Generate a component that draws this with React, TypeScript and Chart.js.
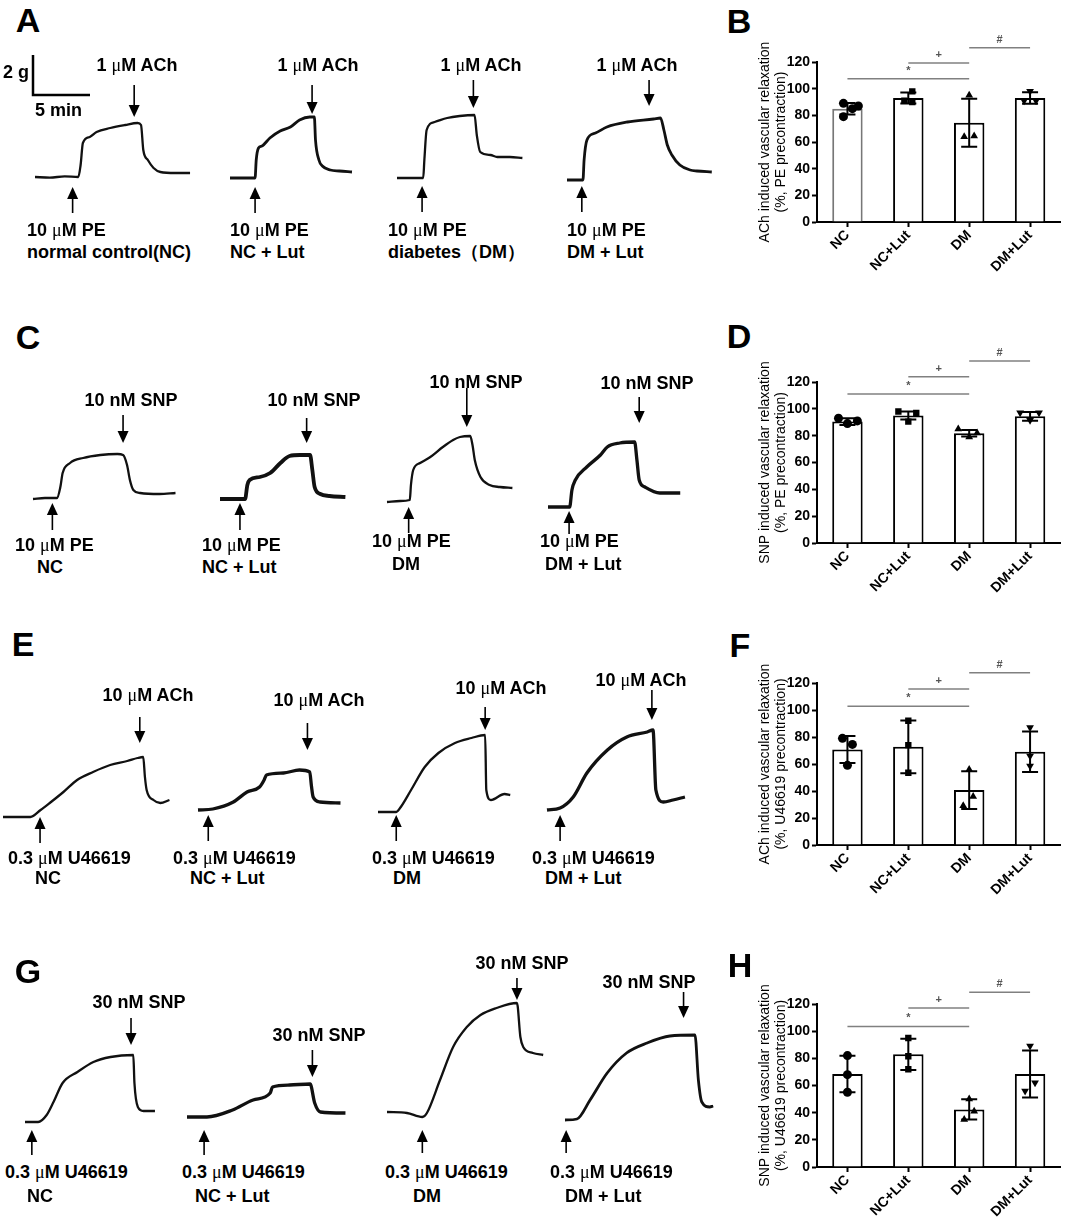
import React, { useEffect, useRef } from "react";
import { Chart, registerables } from "chart.js";

Chart.register(...registerables);

const FONT = "'Liberation Sans', Arial, Helvetica, sans-serif";
const PX_PER_MIN = 11.4;
const PX_PER_G = 20;
const SCALE_G = 2;
const SCALE_MIN = 5;

// ---------- Isometric tension traces: [time (min), tension above baseline (g)] ----------
const A_NC = [[0,0],[1.3,-0.03],[2.6,0.03],[3.8,0],[4.0,0.6],[4.2,1.7],[4.8,2.0],[5.4,2.25],[6.6,2.45],[7.9,2.6],[9.0,2.7],[9.3,2.6],[9.5,1.35],[9.9,0.85],[10.4,0.45],[11.0,0.25],[12.3,0.2],[13.6,0.2]];
const A_NC_LUT = [[0,0],[2.2,0],[2.3,0.9],[2.5,1.5],[2.8,1.6],[3.5,2.0],[4.4,2.35],[5.3,2.55],[6.1,2.9],[7.0,3.05],[7.4,3.05],[7.5,1.9],[7.8,0.9],[8.1,0.6],[8.8,0.4],[9.6,0.35],[10.7,0.3]];
const A_DM = [[0,0],[2.3,0],[2.4,0.9],[2.6,2.4],[3.3,2.8],[4.4,3.0],[5.5,3.1],[6.8,3.15],[7.0,2.15],[7.3,1.3],[8.2,1.15],[8.8,1.05],[9.9,1.05],[11.0,1.0]];
const A_DM_LUT = [[0,0],[1.4,0],[1.5,1.0],[1.75,2.0],[2.5,2.35],[3.5,2.65],[5.3,2.9],[7.6,3.05],[8.2,3.1],[8.5,2.5],[8.8,1.75],[9.2,1.25],[9.9,0.75],[10.8,0.5],[11.4,0.45],[12.7,0.4]];
const A_PE = [3.3, 2.2, 2.2, 1.3];
const A_ACH = [8.7, 7.2, 6.7, 7.2];

const C_NC = [[0,0],[1.05,0.05],[2.1,0.05],[2.4,0.6],[2.6,1.3],[3.25,1.8],[4.4,2.05],[5.9,2.2],[7.4,2.25],[7.9,2.2],[8.25,1.7],[8.5,0.95],[8.8,0.45],[9.4,0.3],[11.1,0.25],[12.5,0.3]];
const C_NC_LUT = [[0,0],[2.2,0],[2.4,0.7],[2.6,0.95],[3.5,1.1],[4.4,1.3],[5.3,1.8],[6.1,2.15],[7.0,2.2],[7.9,2.2],[8.1,1.45],[8.3,0.6],[8.8,0.25],[9.6,0.15],[11.0,0.1]];
const C_DM = [[0,0],[1.15,0.05],[2.0,0.1],[2.1,0.85],[2.3,1.6],[2.9,1.95],[3.8,2.25],[4.9,2.75],[5.8,3.1],[6.4,3.25],[7.3,3.3],[7.5,2.85],[7.7,2.1],[8.2,1.25],[9.0,0.85],[9.9,0.75],[11.0,0.7]];
const C_DM_LUT = [[0,0],[1.9,0],[2.1,0.85],[2.4,1.35],[3.4,2.0],[4.6,2.6],[5.2,3.0],[6.3,3.2],[7.6,3.25],[7.8,2.35],[8.0,1.35],[8.5,1.0],[9.8,0.7],[11.6,0.7]];
const C_PE = [1.7, 1.75, 1.9, 1.85];
const C_SNP = [7.9, 7.6, 7.0, 8.0];

const E_NC = [[0,0],[2.4,0],[3.3,0.35],[4.1,0.7],[5.3,1.25],[6.5,1.85],[7.9,2.25],[9.4,2.6],[10.9,2.8],[11.8,2.95],[12.3,3.0],[12.45,2.0],[12.6,1.35],[13.2,0.85],[13.8,0.7],[14.6,0.85]];
const E_NC_LUT = [[0,0],[1.3,0.05],[3.1,0.4],[4.3,0.9],[5.4,1.15],[5.8,1.5],[6.0,1.75],[7.5,1.85],[8.9,2.0],[9.8,1.9],[9.95,1.2],[10.1,0.65],[10.7,0.4],[12.5,0.35]];
const E_DM = [[0,0],[1.6,0],[2.0,0.25],[2.9,1.1],[4.1,2.25],[5.3,2.95],[6.75,3.45],[8.2,3.7],[9.4,3.85],[9.5,1.1],[9.9,0.6],[11.1,0.9],[11.6,0.85]];
const E_DM_LUT = [[0,0],[1.15,0.1],[2.3,0.65],[3.5,1.85],[5.3,3.0],[7.0,3.65],[8.8,3.9],[9.3,4.0],[9.55,1.0],[10.2,0.4],[11.05,0.5],[12.1,0.65]];
const E_U466 = [3.25, 0.9, 1.6, 1.15];
const E_ACH = [12.0, 9.6, 9.4, 9.2];

const G_NC = [[0,0],[1.15,0],[1.9,0.35],[2.5,1.0],[3.3,1.95],[4.6,2.5],[6.0,3.0],[7.5,3.25],[9.5,3.35],[9.6,1.95],[9.9,0.75],[10.4,0.55],[11.4,0.55]];
const G_NC_LUT = [[0,0],[1.75,0],[4.0,0.35],[5.8,0.85],[7.3,1.2],[7.5,1.5],[9.0,1.6],[10.8,1.65],[11.2,0.7],[11.7,0.25],[13.9,0.2]];
const G_DM = [[0,0],[1.75,-0.05],[3.1,-0.25],[3.5,-0.05],[4.65,1.6],[5.8,3.25],[7.0,4.25],[8.2,4.85],[9.6,5.2],[11.4,5.45],[11.7,3.75],[11.95,3.25],[12.8,2.95],[13.7,2.85]];
const G_DM_LUT = [[0,0],[1.05,0.05],[2.2,1.0],[3.7,2.35],[5.4,3.35],[7.2,3.85],[9.2,4.2],[11.4,4.25],[11.7,2.0],[12.0,0.9],[12.7,0.65],[13.0,0.7]];
const G_U466 = [0.6, 1.5, 3.1, 0.1];
const G_SNP = [9.3, 11.0, 11.4, 10.4];

// ---------- Bar panels ----------
const GROUPS = ["NC", "NC+Lut", "DM", "DM+Lut"];

const B_MEAN = [85, 93, 74.5, 93];
const B_SD = [4.3, 4.2, 18, 4.3];
const B_PTS = [[89, 87, 85, 79], [98, 91, 90], [95, 64, 64.5], [98, 91, 91]];
const B_SIG = [[0, 2, 107.5, "*"], [1, 2, 119.2, "+"], [2, 3, 130.7, "#"]];

const D_MEAN = [90.5, 95, 81.8, 94.4];
const D_SD = [2.5, 3, 2.5, 3.3];
const D_PTS = [[93, 89, 91], [98, 97, 90.5], [85, 82, 79], [97, 97, 91.5]];
const D_SIG = [[0, 2, 111, "*"], [1, 2, 124, "+"], [2, 3, 135.6, "#"]];

const F_MEAN = [70.7, 72.7, 40.7, 69];
const F_SD = [10, 19.5, 14, 15];
const F_PTS = [[79, 74.5, 59], [92, 74, 53.5], [56, 29, 36], [87, 66, 58.5]];
const F_SIG = [[0, 2, 102.8, "*"], [1, 2, 115.6, "+"], [2, 3, 127.6, "#"]];

const H_MEAN = [68.5, 83, 42.4, 68.5];
const H_SD = [13.4, 11.5, 7.4, 17.3];
const H_PTS = [[82, 68, 55], [95, 81.5, 72], [50, 35, 41], [89, 62, 56]];
const H_SIG = [[0, 2, 103.5, "*"], [1, 2, 117, "+"], [2, 3, 128.6, "#"]];

// ---------- layout / style ----------
const ROWS = [
  { top: 50, bottom: 222, data: [A_NC, A_NC_LUT, A_DM, A_DM_LUT], up: A_PE, down: A_ACH,
    x0: [35, 230, 397, 567], yb: [177, 178, 178, 180],
    upY: [[187, 213], [187, 213], [186, 212], [186, 212]],
    downY: [[85, 117], [85, 114], [80, 108], [80, 106]], lw: [2.3, 2.8, 2.3, 2.8] },
  { top: 380, bottom: 540, data: [C_NC, C_NC_LUT, C_DM, C_DM_LUT], up: C_PE, down: C_SNP,
    x0: [33, 220, 387, 548], yb: [499, 499, 502, 507],
    upY: [[503, 530], [503, 530], [507, 533], [511, 534]],
    downY: [[415, 443], [418, 443], [388, 427], [397, 423]], lw: [2.3, 3.8, 2.3, 3.3] },
  { top: 680, bottom: 850, data: [E_NC, E_NC_LUT, E_DM, E_DM_LUT], up: E_U466, down: E_ACH,
    x0: [3, 198, 378, 547], yb: [817, 810, 812, 810],
    upY: [[817, 843], [815, 841], [815, 841], [815, 841]],
    downY: [[717, 743], [723, 750], [707, 730], [690, 720]], lw: [2.3, 3.3, 2.3, 3.3] },
  { top: 960, bottom: 1162, data: [G_NC, G_NC_LUT, G_DM, G_DM_LUT], up: G_U466, down: G_SNP,
    x0: [25, 187, 387, 565], yb: [1122, 1117, 1112, 1120],
    upY: [[1130, 1155], [1130, 1155], [1130, 1153], [1130, 1153]],
    downY: [[1018, 1045], [1050, 1077], [978, 1000], [992, 1018]], lw: [2.3, 3.3, 2.3, 2.8] },
];

const PANELS = [
  { mean: B_MEAN, sd: B_SD, pts: B_PTS, sig: B_SIG, areaTop: 62, areaBottom: 222,
    title: ["ACh induced vascular relaxation", "(%, PE precontraction)"],
    jit: [[-4, 11, 5, -4], [4, -4, 4], [0, -5, 5], [0, -6, 6]], border: ["#777", "#000", "#000", "#000"] },
  { mean: D_MEAN, sd: D_SD, pts: D_PTS, sig: D_SIG, areaTop: 382, areaBottom: 543,
    title: ["SNP induced vascular relaxation", "(%, PE precontraction)"],
    jit: [[-9, 0, 10], [-10, 8, 0], [-11, 8, 0], [-10, 9, 0]], border: ["#000", "#000", "#000", "#000"] },
  { mean: F_MEAN, sd: F_SD, pts: F_PTS, sig: F_SIG, areaTop: 683, areaBottom: 845,
    title: ["ACh induced vascular relaxation", "(%, U46619 precontraction)"],
    jit: [[-5, 5, 0], [0, 0, 0], [0, -6, 4], [0, 0, 0]], border: ["#000", "#000", "#000", "#000"] },
  { mean: H_MEAN, sd: H_SD, pts: H_PTS, sig: H_SIG, areaTop: 1004, areaBottom: 1167,
    title: ["SNP induced vascular relaxation", "(%, U46619 precontraction)"],
    jit: [[0, 0, 0], [0, 0, 0], [0, -5, 5], [0, 5, -5]], border: ["#000", "#000", "#000", "#000"] },
];

const LETTERS: [string, number, number][] = [
  ["A", 28, 20], ["B", 739, 21], ["C", 28, 337], ["D", 739, 336],
  ["E", 23, 644], ["F", 740, 645], ["G", 28, 971], ["H", 740, 965],
];

const LABELS: [number, number, string, number][] = [
  [137, 65, "1 μM ACh", 1], [318, 65, "1 μM ACh", 1], [481, 65, "1 μM ACh", 1], [637, 65, "1 μM ACh", 1],
  [27, 230, "10 μM PE", 0], [230, 230, "10 μM PE", 0], [388, 230, "10 μM PE", 0], [567, 230, "10 μM PE", 0],
  [27, 252, "normal control(NC)", 0], [230, 252, "NC + Lut", 0], [388, 252, "diabetes（DM）", 0], [567, 252, "DM + Lut", 0],
  [3, 72, "2 g", 0], [35, 110, "5 min", 0],
  [131, 400, "10 nM SNP", 1], [314, 400, "10 nM SNP", 1], [476, 382, "10 nM SNP", 1], [647, 383, "10 nM SNP", 1],
  [15, 545, "10 μM PE", 0], [202, 545, "10 μM PE", 0], [372, 541, "10 μM PE", 0], [540, 541, "10 μM PE", 0],
  [37, 567, "NC", 0], [202, 567, "NC + Lut", 0], [392, 564, "DM", 0], [545, 564, "DM + Lut", 0],
  [148, 695, "10 μM ACh", 1], [319, 700, "10 μM ACh", 1], [501, 688, "10 μM ACh", 1], [641, 680, "10 μM ACh", 1],
  [8, 858, "0.3 μM U46619", 0], [173, 858, "0.3 μM U46619", 0], [372, 858, "0.3 μM U46619", 0], [532, 858, "0.3 μM U46619", 0],
  [35, 878, "NC", 0], [190, 878, "NC + Lut", 0], [393, 878, "DM", 0], [545, 878, "DM + Lut", 0],
  [139, 1002, "30 nM SNP", 1], [319, 1035, "30 nM SNP", 1], [522, 963, "30 nM SNP", 1], [649, 982, "30 nM SNP", 1],
  [5, 1172, "0.3 μM U46619", 0], [182, 1172, "0.3 μM U46619", 0], [385, 1172, "0.3 μM U46619", 0], [550, 1172, "0.3 μM U46619", 0],
  [27, 1196, "NC", 0], [195, 1196, "NC + Lut", 0], [413, 1196, "DM", 0], [565, 1196, "DM + Lut", 0],
];

function fmt(s: string) {
  const parts = s.split("μ");
  const out: any[] = [];
  parts.forEach((p, i) => {
    if (i > 0) out.push(<span key={"m" + i} style={{ fontFamily: "'Liberation Serif', serif", fontWeight: "normal" }}>μ</span>);
    out.push(<React.Fragment key={"t" + i}>{p}</React.Fragment>);
  });
  return out;
}

function Label({ x, y, text, center, size = 18 }: any) {
  return (
    <div style={{
      position: "absolute", left: x, top: y,
      transform: center ? "translate(-50%,-50%)" : "translateY(-50%)",
      fontFamily: FONT, fontSize: size, fontWeight: "bold", lineHeight: 1,
      whiteSpace: "nowrap", color: "#000",
    }}>{fmt(text)}</div>
  );
}

function TraceChart({ data, x0, yb, top, bottom, up, down, upY, downY, lw, scaleBar }: any) {
  const ref = useRef<HTMLCanvasElement>(null);
  const tMax = Math.max(...data.map((p: number[]) => p[0]));
  const left = Math.round(x0 - 14);
  const width = Math.round(tMax * PX_PER_MIN + 28);
  const height = bottom - top;
  useEffect(() => {
    const xMin = (left - x0) / PX_PER_MIN;
    const xMax = (left + width - x0) / PX_PER_MIN;
    const yMax = (yb - top) / PX_PER_G;
    const yMin = (yb - bottom) / PX_PER_G;
    const arrows = {
      id: "arrows",
      afterDraw(chart: any) {
        const ctx = chart.ctx;
        const xs = chart.scales.x;
        const ys = chart.scales.y;
        ctx.save();
        ctx.fillStyle = "#000";
        ctx.strokeStyle = "#000";
        const drawArrow = (x: number, yTail: number, yTip: number) => {
          const dir = yTip > yTail ? 1 : -1;
          const headLen = 12, half = 5.5;
          ctx.lineWidth = 1.6;
          ctx.beginPath();
          ctx.moveTo(x, yTail);
          ctx.lineTo(x, yTip - dir * headLen);
          ctx.stroke();
          ctx.beginPath();
          ctx.moveTo(x, yTip);
          ctx.lineTo(x - half, yTip - dir * headLen);
          ctx.lineTo(x + half, yTip - dir * headLen);
          ctx.closePath();
          ctx.fill();
        };
        drawArrow(xs.getPixelForValue(up), upY[1] - top, upY[0] - top);
        drawArrow(xs.getPixelForValue(down), downY[0] - top, downY[1] - top);
        if (scaleBar) {
          const cx = scaleBar[0] - left;
          const cy = scaleBar[1] - top;
          const h = ys.getPixelForValue(0) - ys.getPixelForValue(SCALE_G);
          const w = xs.getPixelForValue(SCALE_MIN) - xs.getPixelForValue(0);
          ctx.lineWidth = 2.5;
          ctx.beginPath();
          ctx.moveTo(cx, cy - h);
          ctx.lineTo(cx, cy);
          ctx.lineTo(cx + w, cy);
          ctx.stroke();
        }
        ctx.restore();
      },
    };
    const chart = new Chart(ref.current as HTMLCanvasElement, {
      type: "line",
      data: {
        datasets: [{
          data: data.map((p: number[]) => ({ x: p[0], y: p[1] })),
          borderColor: "#111",
          borderWidth: lw,
          pointRadius: 0,
          cubicInterpolationMode: "monotone",
          fill: false,
        }],
      },
      options: {
        animation: false,
        responsive: false,
        maintainAspectRatio: false,
        events: [],
        layout: { padding: 0 },
        plugins: { legend: { display: false }, tooltip: { enabled: false } },
        scales: {
          x: { type: "linear", display: false, min: xMin, max: xMax },
          y: { type: "linear", display: false, min: yMin, max: yMax },
        },
      } as any,
      plugins: [arrows],
    } as any);
    return () => chart.destroy();
  }, []);
  return <canvas ref={ref} width={width} height={height}
    style={{ position: "absolute", left, top, width, height }} />;
}

const STYLES = ["circle", "rect", "triangle", "triangle"];

function BarPanel({ p }: any) {
  const ref = useRef<HTMLCanvasElement>(null);
  const left = 752;
  const width = 313;
  const padTop = 62;
  const xH = 50;
  const padBottom = 5;
  const top = p.areaTop - padTop;
  const height = p.areaBottom - p.areaTop + padTop + xH + padBottom;
  useEffect(() => {
    const catW = (1062 - 817) / GROUPS.length;
    const deco = {
      id: "deco",
      afterDatasetDraw(chart: any, args: any) {
        if (args.index !== 0) return;
        const ctx = chart.ctx;
        const xs = chart.scales.x;
        const ys = chart.scales.y;
        ctx.save();
        ctx.strokeStyle = "#000";
        ctx.lineWidth = 2;
        p.mean.forEach((m: number, i: number) => {
          const x = xs.getPixelForValue(i);
          const yT = ys.getPixelForValue(m + p.sd[i]);
          const yB = ys.getPixelForValue(m - p.sd[i]);
          ctx.beginPath();
          ctx.moveTo(x, yT); ctx.lineTo(x, yB);
          ctx.moveTo(x - 8, yT); ctx.lineTo(x + 8, yT);
          ctx.moveTo(x - 8, yB); ctx.lineTo(x + 8, yB);
          ctx.stroke();
        });
        ctx.restore();
      },
      afterDraw(chart: any) {
        const ctx = chart.ctx;
        const xs = chart.scales.x;
        const ys = chart.scales.y;
        ctx.save();
        ctx.strokeStyle = "#808080";
        ctx.fillStyle = "#555";
        ctx.lineWidth = 1.5;
        ctx.font = "bold 11px " + FONT;
        ctx.textAlign = "center";
        ctx.textBaseline = "middle";
        p.sig.forEach((s: any[]) => {
          const x1 = xs.getPixelForValue(s[0]);
          const x2 = xs.getPixelForValue(s[1]);
          const y = ys.getPixelForValue(s[2]);
          ctx.beginPath();
          ctx.moveTo(x1, y); ctx.lineTo(x2, y);
          ctx.stroke();
          ctx.fillText(s[3], (x1 + x2) / 2, y - 8);
        });
        ctx.restore();
      },
    };
    const datasets: any[] = [{
      type: "bar",
      data: p.mean,
      backgroundColor: "#fff",
      borderColor: p.border,
      borderWidth: 2,
      barPercentage: 0.5,
      categoryPercentage: 1,
      grouped: false,
      order: 2,
    }];
    p.pts.forEach((vals: number[], g: number) => {
      datasets.push({
        type: "scatter",
        xAxisID: "xp",
        yAxisID: "y",
        data: vals.map((v, i) => ({ x: g + p.jit[g][i] / catW, y: v })),
        pointStyle: STYLES[g],
        rotation: g === 3 ? 180 : 0,
        pointRadius: 4.5,
        backgroundColor: "#000",
        borderColor: "#000",
        borderWidth: 0,
        showLine: false,
        order: 1,
      });
    });
    const chart = new Chart(ref.current as HTMLCanvasElement, {
      type: "bar",
      data: { labels: GROUPS, datasets },
      options: {
        animation: false,
        responsive: false,
        maintainAspectRatio: false,
        events: [],
        layout: { padding: { top: padTop, bottom: padBottom, left: 0, right: 3 } },
        plugins: { legend: { display: false }, tooltip: { enabled: false } },
        scales: {
          x: {
            type: "category",
            offset: true,
            border: { display: true, color: "#000", width: 2 },
            grid: { display: true, drawOnChartArea: false, drawTicks: true, offset: false, tickLength: 5, tickWidth: 2, tickColor: "#000", color: "#000" },
            ticks: { color: "#000", font: { family: FONT, size: 14, weight: "bold" }, minRotation: 45, maxRotation: 45, padding: 0 },
            afterFit: (s: any) => { s.height = xH; },
          },
          xp: { type: "linear", display: false, offset: false, grid: { offset: false }, min: -0.5, max: 3.5 },
          y: {
            min: 0, max: 120,
            border: { display: true, color: "#000", width: 2 },
            grid: { display: true, drawOnChartArea: false, drawTicks: true, tickLength: 5, tickWidth: 2, tickColor: "#000", color: "#000" },
            ticks: { stepSize: 20, color: "#000", font: { family: FONT, size: 14, weight: "bold" }, padding: 2 },
            title: { display: true, text: p.title, color: "#000", font: { family: FONT, size: 14, lineHeight: 1.15 }, padding: { top: 5, bottom: 0 } },
            afterFit: (s: any) => { s.width = 817 - left; },
          },
        },
      } as any,
      plugins: [deco],
    } as any);
    return () => chart.destroy();
  }, []);
  return <canvas ref={ref} width={width} height={height}
    style={{ position: "absolute", left, top, width, height }} />;
}

export default function App() {
  const traces: any[] = [];
  ROWS.forEach((r, ri) => {
    r.data.forEach((d, i) => {
      traces.push(
        <TraceChart key={ri + "-" + i} data={d} x0={r.x0[i]} yb={r.yb[i]} top={r.top} bottom={r.bottom}
          up={r.up[i]} down={r.down[i]} upY={r.upY[i]} downY={r.downY[i]} lw={r.lw[i]}
          scaleBar={ri === 0 && i === 0 ? [33, 95] : null} />
      );
    });
  });
  return (
    <div style={{ position: "absolute", left: 0, top: 0, width: 1065, height: 1217, background: "#fff", overflow: "hidden" }}>
      {traces}
      {PANELS.map((p, i) => <BarPanel key={"p" + i} p={p} />)}
      {LETTERS.map(([t, x, y]) => <Label key={t} x={x} y={y} text={t} center size={34} />)}
      {LABELS.map(([x, y, t, c], i) => <Label key={"l" + i} x={x} y={y} text={t} center={!!c} />)}
    </div>
  );
}
